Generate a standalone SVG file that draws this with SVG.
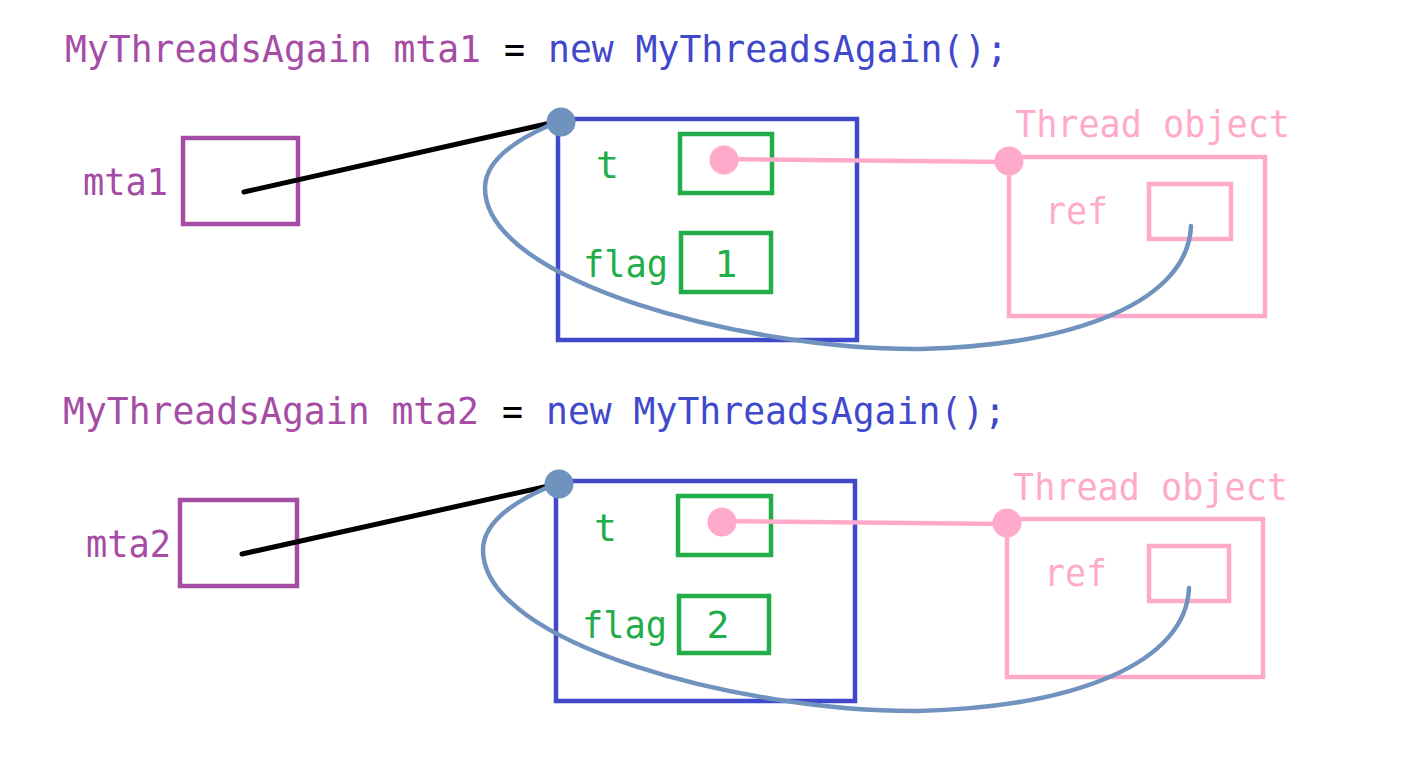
<svg xmlns="http://www.w3.org/2000/svg" width="1418" height="780" viewBox="0 0 1418 780">
<style>
text{font-family:"DejaVu Sans Mono","Liberation Mono",monospace;font-size:38px}
.pu{fill:#A54CA5}.bl{fill:#4048CC}.gr{fill:#22AD4A}.pk{fill:#FFAACA}.bk{fill:#000}
.bpu{fill:none;stroke:#A54CA5;stroke-width:4.5}
.bbl{fill:none;stroke:#4048CC;stroke-width:4.5}
.bgr{fill:none;stroke:#22AD4A;stroke-width:4.5}
.bpk{fill:none;stroke:#FFAACA;stroke-width:4.5}
.ref{fill:none;stroke:#000;stroke-width:5;stroke-linecap:round}
.pl{fill:none;stroke:#FFAACA;stroke-width:4.5}
.cv{fill:none;stroke:#7092BE;stroke-width:4.5;stroke-linecap:round}
.dbl{fill:#7092BE}.dpk{fill:#FFAACA}
</style>
<rect width="1418" height="780" fill="#fff"/>
<g id="title1">
<text class="pu" x="65" y="62" textLength="416" lengthAdjust="spacingAndGlyphs">MyThreadsAgain mta1</text>
<text class="bk" x="504" y="62" textLength="21" lengthAdjust="spacingAndGlyphs">=</text>
<text class="bl" x="548" y="62" textLength="460" lengthAdjust="spacingAndGlyphs">new MyThreadsAgain();</text>
</g>
<g id="var-mta1"><text class="pu" x="83" y="195" textLength="85" lengthAdjust="spacingAndGlyphs">mta1</text><rect class="bpu" x="183" y="138" width="115" height="86"/></g>
<g id="obj1"><rect class="bbl" x="558" y="119" width="299" height="221"/></g>
<g id="obj1-t"><text class="gr" x="596" y="178">t</text><rect class="bgr" x="680" y="134" width="92" height="59"/></g>
<g id="obj1-flag"><text class="gr" x="583" y="277" textLength="85" lengthAdjust="spacingAndGlyphs">flag</text><rect class="bgr" x="681" y="233" width="90" height="59"/><text class="gr" x="726" y="277" text-anchor="middle">1</text></g>
<g id="thread1"><text class="pk" x="1015" y="137" textLength="275" lengthAdjust="spacingAndGlyphs">Thread object</text><rect class="bpk" x="1009" y="157" width="256" height="159"/></g>
<g id="thread1-ref"><text class="pk" x="1045" y="224" textLength="63" lengthAdjust="spacingAndGlyphs">ref</text><rect class="bpk" x="1149" y="184" width="82" height="55"/></g>

<g id="title2">
<text class="pu" x="63" y="424" textLength="416" lengthAdjust="spacingAndGlyphs">MyThreadsAgain mta2</text>
<text class="bk" x="502" y="424" textLength="21" lengthAdjust="spacingAndGlyphs">=</text>
<text class="bl" x="546" y="424" textLength="460" lengthAdjust="spacingAndGlyphs">new MyThreadsAgain();</text>
</g>
<g id="var-mta2"><text class="pu" x="86" y="557" textLength="85" lengthAdjust="spacingAndGlyphs">mta2</text><rect class="bpu" x="180" y="500" width="117" height="86"/></g>
<g id="obj2"><rect class="bbl" x="556" y="481" width="299" height="220"/></g>
<g id="obj2-t"><text class="gr" x="594" y="541">t</text><rect class="bgr" x="678" y="496" width="93" height="59"/></g>
<g id="obj2-flag"><text class="gr" x="582" y="638" textLength="85" lengthAdjust="spacingAndGlyphs">flag</text><rect class="bgr" x="679" y="596" width="90" height="57"/><text class="gr" x="718" y="638" text-anchor="middle">2</text></g>
<g id="thread2"><text class="pk" x="1013" y="500" textLength="275" lengthAdjust="spacingAndGlyphs">Thread object</text><rect class="bpk" x="1007" y="519" width="256" height="158"/></g>
<g id="thread2-ref"><text class="pk" x="1044" y="586" textLength="63" lengthAdjust="spacingAndGlyphs">ref</text><rect class="bpk" x="1149" y="546" width="80" height="55"/></g>

<g id="connectors">
<line class="ref" x1="244" y1="192" x2="555" y2="122"/>
<polyline class="pl" points="724,159 1009,162"/>
<path class="cv" d="M1191 226 C1188 300 1080 345 920 349 C745 350 485 282 485 188 C485 165 505 145 548 126"/>
<circle class="dbl" cx="561" cy="122" r="14.5"/>
<circle class="dpk" cx="724" cy="160" r="14.5"/>
<circle class="dpk" cx="1009" cy="161" r="14.5"/>

<line class="ref" x1="242" y1="554" x2="553" y2="485"/>
<polyline class="pl" points="722,521 1007,524"/>
<path class="cv" d="M1189 588 C1186 662 1078 707 918 711 C743 712 483 644 483 550 C483 527 503 507 546 488"/>
<circle class="dbl" cx="559" cy="484" r="14.5"/>
<circle class="dpk" cx="722" cy="522" r="14.5"/>
<circle class="dpk" cx="1007" cy="523" r="14.5"/>
</g>
</svg>
